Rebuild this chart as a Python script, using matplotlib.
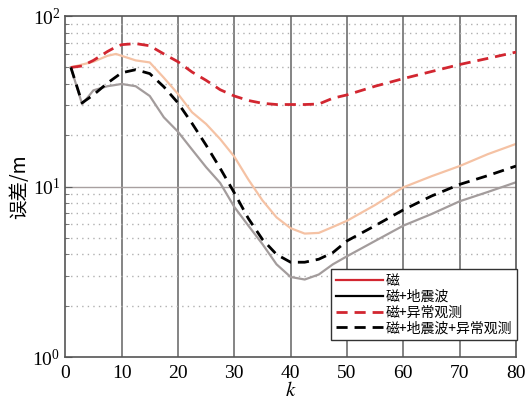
import matplotlib
matplotlib.use("Agg")
import matplotlib.pyplot as plt
from matplotlib.lines import Line2D
from matplotlib.ticker import LogLocator, NullFormatter

plt.rcParams['font.family'] = ['Liberation Serif', 'Noto Sans CJK SC']
plt.rcParams['mathtext.fontset'] = 'stix'

# sampling steps
k = [1, 3, 5, 7.5, 9, 10, 12.5, 15, 17.5, 20, 22.5, 25, 27.5, 30, 32.5, 35,
     37.5, 40, 42.5, 45, 47.5, 50, 55, 60, 65, 70, 75, 80]

# errors (m)
mag = [50, 52, 54, 58.5, 60, 58.5, 55, 53.5, 43.5, 35, 27.3, 23.3, 19, 15, 11,
       8.3, 6.6, 5.7, 5.3, 5.35, 5.8, 6.3, 7.8, 9.9, 11.5, 13.2, 15.5, 17.8]
mag_seis = [50, 30.4, 36.7, 38.8, 39.5, 40, 38.8, 34, 25.5, 21, 16.5, 13, 10.5,
            7.6, 5.9, 4.6, 3.5, 2.95, 2.85, 3.05, 3.5, 3.9, 4.8, 5.9, 6.9, 8.2,
            9.3, 10.6]
mag_anom = [50, 51, 55, 62, 66, 68, 69, 67, 60, 54, 47, 42, 37, 34, 32, 30.8,
            30.3, 30.3, 30.3, 30.5, 33, 34.5, 38.8, 43, 47.3, 52, 56.5, 61.5]
mag_seis_anom = [50, 31, 34.5, 40.5, 44, 46.5, 48.5, 46, 38.5, 31, 23.5, 17.5,
                 12.8, 9.2, 6.5, 4.9, 4.0, 3.6, 3.6, 3.75, 4.1, 4.8, 5.9, 7.3,
                 8.8, 10.3, 11.6, 13.2]

labels = ['磁', '磁+地震波', '磁+异常观测', '磁+地震波+异常观测']

fig = plt.figure(figsize=(5.26, 4.03), dpi=100)
ax = fig.add_axes([0.124, 0.114, 0.857, 0.846])

ax.set_yscale('log')
ax.set_xlim(0, 80)
ax.set_ylim(1, 100)

# grid: solid at major x and decades, dotted at minor y
for xv in range(10, 80, 10):
    ax.axvline(xv, color='#707070', lw=1.2, zorder=1)
ax.axhline(10, color='#a8a0a0', lw=1.0, zorder=1)
for dec in (1, 10):
    for m in range(2, 10):
        ax.axhline(dec * m, color='#b0b0b0', lw=1.0, ls=(0, (1, 3)), zorder=1)

dash = (0, (4, 2.5))
ax.plot(k, mag, color='#f5c2a4', lw=1.6, zorder=2)
ax.plot(k, mag_seis, color='#a39c9c', lw=1.6, zorder=2)
ax.plot(k, mag_anom, color='#d22630', lw=2.0, ls=dash, zorder=3)
ax.plot(k, mag_seis_anom, color='black', lw=2.0, ls=dash, zorder=3)

ax.set_xticks(range(0, 81, 10))
ax.yaxis.set_major_locator(LogLocator(base=10, numticks=5))
ax.yaxis.set_minor_locator(LogLocator(base=10, subs=range(2, 10), numticks=20))
ax.yaxis.set_minor_formatter(NullFormatter())
ax.tick_params(axis='both', which='both', direction='in', labelsize=14,
               color='#606060')
ax.tick_params(axis='x', length=0, pad=6)
ax.tick_params(axis='y', which='major', length=5)
ax.tick_params(axis='y', which='minor', length=3)
for s in ax.spines.values():
    s.set_color('#555555')
    s.set_linewidth(1.2)

ax.set_xlabel('$k$', fontsize=15, labelpad=0)
ax.set_ylabel('误差/m', fontsize=14, family=['Noto Sans CJK SC'], labelpad=2)

handles = [Line2D([], [], color='#d22630', lw=1.6),
           Line2D([], [], color='black', lw=1.6),
           Line2D([], [], color='#d22630', lw=2.0, ls=dash),
           Line2D([], [], color='black', lw=2.0, ls=dash)]
leg = ax.legend(handles, labels, loc='lower right',
                prop={'family': ['Noto Sans CJK SC'], 'size': 10},
                handlelength=3.4, handletextpad=0.2, borderpad=0.35,
                labelspacing=0.12, fancybox=False, framealpha=1,
                bbox_to_anchor=(1.002, 0.05), borderaxespad=0)
leg.get_frame().set_edgecolor('#333333')
leg.get_frame().set_linewidth(1.0)

fig.savefig('out.png', dpi=100)
